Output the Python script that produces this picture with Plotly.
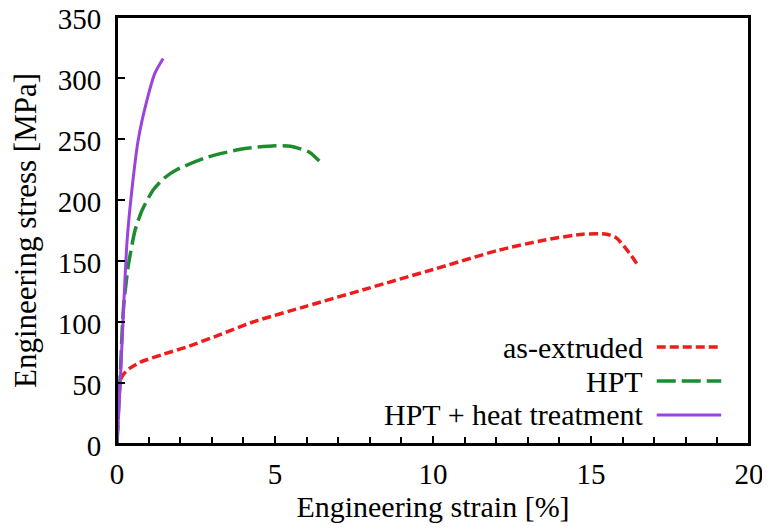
import plotly.graph_objects as go

# ---- data ----
ext_strain = [0, 0.05, 0.12, 0.2, 0.4, 0.73, 1.4, 2.2, 3.2, 4.3, 6, 8, 10, 12.1, 13.5, 14.75, 15.5, 15.8, 16.2, 16.5]
ext_stress = [0, 35, 53, 57, 62, 67, 73, 79.5, 89, 100, 113, 128, 143, 159, 167, 172, 172, 169, 157, 146]

hpt_strain = [0, 0.1, 0.2, 0.35, 0.57, 0.8, 1.14, 1.5, 1.9, 2.85, 4.0, 5.0, 5.5, 6.1, 6.4]
hpt_stress = [0, 55, 110, 145, 175, 192, 208, 218, 225, 235, 242, 244.5, 244, 239, 232]

ht_strain = [0, 0.1, 0.25, 0.32, 0.47, 0.67, 0.95, 1.2, 1.46]
ht_stress = [0, 50, 134, 167, 208, 249, 282, 304, 316]

names = ["as-extruded", "HPT", "HPT + heat treatment"]
x_ticks = [0, 5, 10, 15, 20]
y_ticks = [0, 50, 100, 150, 200, 250, 300, 350]

colors = ["#ee1c1c", "#1e8c2e", "#9b44dd"]
dashes = ["9px,4px", "19px,6px", "solid"]
widths = [3.5, 3.5, 3]

FONT = "Liberation Serif"
FS = 29

fig = go.Figure()
series = [(ext_strain, ext_stress), (hpt_strain, hpt_stress), (ht_strain, ht_stress)]
for (xs, ys), name, c, d, w in zip(series, names, colors, dashes, widths):
    fig.add_trace(go.Scatter(x=xs, y=ys, mode="lines", name=name,
                             line=dict(color=c, dash=d, width=w, shape="spline", smoothing=0.6),
                             showlegend=False))

# custom legend (text on the left, sample on the right)
leg_y = [0.227, 0.1475, 0.068]
for name, c, d, w, ly in zip(names, colors, dashes, widths, leg_y):
    fig.add_annotation(x=0.836, y=ly, xref="paper", yref="paper", text=name,
                       showarrow=False, xanchor="right", yanchor="middle",
                       font=dict(family=FONT, size=30, color="black"))
    fig.add_shape(type="line", xref="paper", yref="paper", x0=0.854, x1=0.956, y0=ly, y1=ly,
                  line=dict(color=c, dash=d, width=w))

# plot frame
fig.add_shape(type="rect", xref="paper", yref="paper", x0=0, x1=1, y0=0, y1=1,
              line=dict(color="black", width=2), layer="above")

axis_common = dict(showline=True, linecolor="black", linewidth=2, mirror=True,
                   ticks="inside", tickcolor="black", tickwidth=1.5, ticklen=8,
                   showgrid=False, zeroline=False, automargin=False,
                   ticklabeloverflow="allow",
                   tickfont=dict(family=FONT, size=FS, color="black"))

fig.update_xaxes(range=[0, 20], tickvals=x_ticks, ticktext=[str(v) for v in x_ticks],
                 minor=dict(dtick=1, ticks="inside", ticklen=7, tickcolor="black", tickwidth=1.5),
                 ticklabelstandoff=3,
                 title=dict(text="Engineering strain [%]", font=dict(family=FONT, size=30, color="black"), standoff=4),
                 **axis_common)
fig.update_yaxes(range=[0, 350], tickvals=y_ticks, ticktext=[str(v) for v in y_ticks],
                 ticklabelstandoff=8, ticklabelshift=2,
                 title=dict(text="Engineering stress [MPa]", font=dict(family=FONT, size=31, color="black"), standoff=27),
                 **axis_common)

# page body adds an 8px offset; compensate so the plot area lands at x 117-749, y 17-444
fig.update_layout(width=762, height=522, margin=dict(l=109, r=21, t=9, b=86, autoexpand=False),
                  plot_bgcolor="white", paper_bgcolor="white",
                  font=dict(family=FONT, color="black"))

fig.write_html("out.html")
